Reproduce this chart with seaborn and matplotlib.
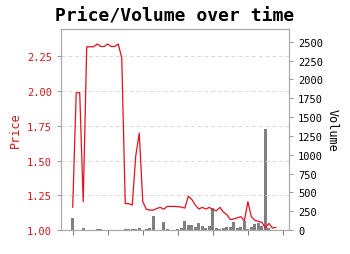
import matplotlib
matplotlib.use("Agg")
import matplotlib.pyplot as plt
import seaborn as sns
import pandas as pd

price = [1.163, 1.987, 1.99, 1.204, 2.32, 2.32, 2.32, 2.34, 2.322, 2.322,
         2.34, 2.322, 2.322, 2.34, 2.24, 1.19, 1.19, 1.18, 1.535, 1.697,
         1.204, 1.15, 1.143, 1.143, 1.155, 1.163, 1.15, 1.17, 1.17, 1.17,
         1.168, 1.165, 1.158, 1.243, 1.22, 1.18, 1.151, 1.163, 1.151, 1.163,
         1.146, 1.139, 1.163, 1.13, 1.11, 1.075, 1.08, 1.088, 1.096, 1.067,
         1.204, 1.095, 1.07, 1.062, 1.055, 1.014, 1.048, 1.014, 1.019]
volume = [155, 0, 0, 27, 0, 0, 0, 9, 9, 5,
          0, 0, 0, 0, 0, 13, 13, 13, 13, 25,
          5, 13, 30, 190, 0, 5, 100, 10, 0, 0,
          15, 20, 115, 66, 68, 44, 90, 55, 28, 49,
          288, 25, 13, 27, 35, 46, 100, 27, 35, 120,
          13, 35, 85, 90, 58, 1340, 20, 5, 0]
day = list(range(len(price)))
price_ticks = [1.00, 1.25, 1.50, 1.75, 2.00, 2.25]
volume_ticks = [0, 250, 500, 750, 1000, 1250, 1500, 1750, 2000, 2250, 2500]

df = pd.DataFrame({"day": day, "price": price, "volume": volume})

sns.set_theme(style="white")
plt.rcParams["font.family"] = ["DejaVu Sans Mono", "DejaVu Sans"]

fig = plt.figure(figsize=(3.5, 2.55), dpi=100)
ax1 = fig.add_axes([61/350, 1-231/255, 228/350, 201/255])
ax2 = ax1.twinx()

sns.barplot(data=df, x="day", y="volume", ax=ax2, color="#808080",
            saturation=1, width=0.8, linewidth=0, native_scale=True)
sns.lineplot(data=df, x="day", y="price", ax=ax1, color="#e3101e", linewidth=0.9)

ax1.set_zorder(ax2.get_zorder() + 1)
ax1.patch.set_visible(False)

red = "#cc1a1a"
ax1.set_xlim(-3.34, 61.74)
ax1.set_ylim(1.0, 2.448)
ax2.set_ylim(0, 2669)
ax1.set_yticks(price_ticks)
ax1.set_yticklabels([f"{v:.2f}" for v in price_ticks])
ax2.set_yticks(volume_ticks)
ax2.set_yticklabels([str(v) for v in volume_ticks])
ax1.set_xticks(range(0, 61, 10))
ax1.set_xticklabels([])
ax1.set_xlabel("")
ax2.set_xlabel("")

ax1.yaxis.grid(True, linestyle=(0, (4, 3)), color="#d9d9d9", linewidth=0.7)
ax1.set_axisbelow(True)

ax1.tick_params(axis="y", colors="#888888", labelcolor=red, labelsize=7.5,
                length=3, width=0.6, direction="out", left=True)
ax1.tick_params(axis="x", colors="#777777", length=3.5, width=0.7,
                direction="out", bottom=True)
ax2.tick_params(axis="y", colors="#888888", labelcolor="black", labelsize=7.5,
                length=3, width=0.6, direction="out", right=True)

ax1.set_ylabel("Price", color=red, fontsize=8.5, labelpad=4)
ax2.set_ylabel("Volume", color="black", fontsize=8.5, rotation=270, labelpad=11)

for ax in (ax1, ax2):
    for s in ax.spines.values():
        s.set_color("#aaaaaa")
        s.set_linewidth(0.8)

ax1.set_title("Price/Volume over time", fontsize=13, fontweight="bold",
              color="black", pad=6)

fig.savefig("out.png", dpi=100)
